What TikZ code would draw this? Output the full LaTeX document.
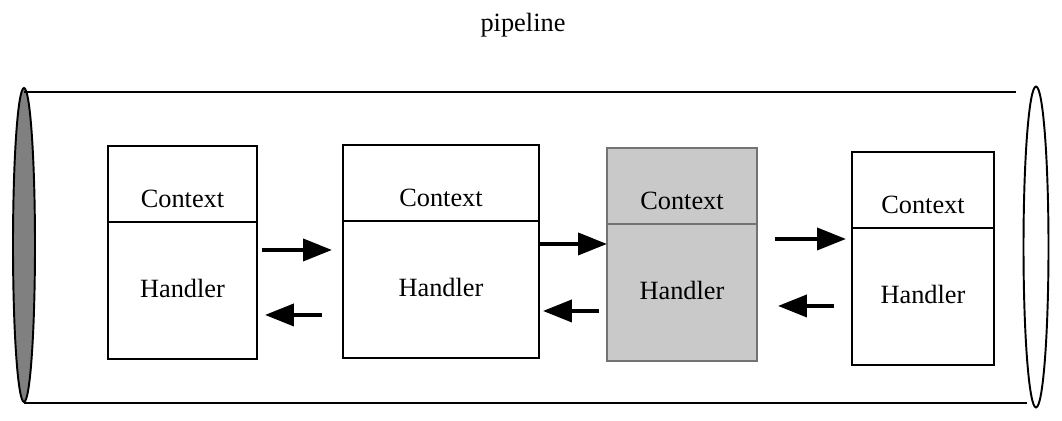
\documentclass[tikz,border=0pt]{standalone}
\usepackage{fontspec}
\setmainfont{Liberation Serif}
\usetikzlibrary{shapes,arrows.meta,positioning}

\begin{document}
\begin{tikzpicture}[x=0.02cm, y=-0.02cm,
    every node/.style = {font=\fontsize{15}{18}\selectfont},
    ctx/.style = {draw, line width=1.1pt, inner sep=0pt, outer sep=0pt, text height=1.24cm, text depth=0.28cm},
    hdl/.style = {draw, line width=1.1pt, inner sep=0pt, outer sep=0pt, text height=1.52cm, text depth=1.22cm},
    busy/.style = {fill=black!21, draw=black!55},
    flow/.style = {line width=2.2pt, -{Triangle[length=0.58cm, width=0.44cm]}},
    pipeend/.style = {draw, ellipse, line width=1.1pt, inner sep=0pt}]
  \useasboundingbox (0,0) rectangle (1062,421);
  \node[anchor=base] (title) at (523,32) {pipeline};

  % the pipe
  \node[pipeend, fill=black!50, minimum width=0.44cm, minimum height=6.28cm] (pipeL) at (24,245) {};
  \node[pipeend, fill=white, minimum width=0.5cm, minimum height=6.42cm] (pipeR) at (1036,247) {};
  \draw[line width=1.1pt] ([yshift=-0.1cm]pipeL.north) -- ([xshift=-0.13cm, yshift=-0.1cm]pipeR.west |- pipeL.north);
  \draw[line width=1.1pt] (pipeL.south) -- ([xshift=0.08cm]pipeR.west |- pipeL.south);

  % handlers
  \node[ctx, minimum width=2.98cm, anchor=north west] (ctxA) at (108,146) {Context};
  \node[hdl, minimum width=2.98cm, below=0pt of ctxA] (hdlA) {Handler};
  \node[ctx, minimum width=3.92cm, anchor=north west] (ctxB) at (343,145) {Context};
  \node[hdl, minimum width=3.92cm, below=0pt of ctxB] (hdlB) {Handler};
  \node[ctx, busy, minimum width=3.0cm, anchor=north west] (ctxC) at (607,148) {Context};
  \node[hdl, busy, minimum width=3.0cm, below=0pt of ctxC] (hdlC) {Handler};
  \node[ctx, minimum width=2.84cm, anchor=north west] (ctxD) at (852,152) {Context};
  \node[hdl, minimum width=2.84cm, below=0pt of ctxD] (hdlD) {Handler};

  % arrows
  \draw[flow, shorten <=0.1cm, shorten >=0.22cm] ([yshift=-0.56cm]hdlA.north east) -- ([yshift=-0.56cm]hdlA.north east -| hdlB.west);
  \draw[flow, shorten <=0.42cm, shorten >=0.16cm] ([yshift=-1.86cm]hdlA.north east -| hdlB.west) -- ([yshift=-1.86cm]hdlA.north east);
  \draw[flow] ([yshift=-0.46cm]hdlB.north east) -- ([yshift=-0.46cm]hdlB.north east -| hdlC.west);
  \draw[flow, shorten <=0.16cm, shorten >=0.08cm] ([yshift=-1.8cm]hdlB.north east -| hdlC.west) -- ([yshift=-1.8cm]hdlB.north east);
  \draw[flow, shorten <=0.36cm, shorten >=0.12cm] ([yshift=-0.3cm]hdlC.north east) -- ([yshift=-0.3cm]hdlC.north east -| hdlD.west);
  \draw[flow, shorten <=0.36cm, shorten >=0.42cm] ([yshift=-1.64cm]hdlC.north east -| hdlD.west) -- ([yshift=-1.64cm]hdlC.north east);
\end{tikzpicture}
\end{document}
